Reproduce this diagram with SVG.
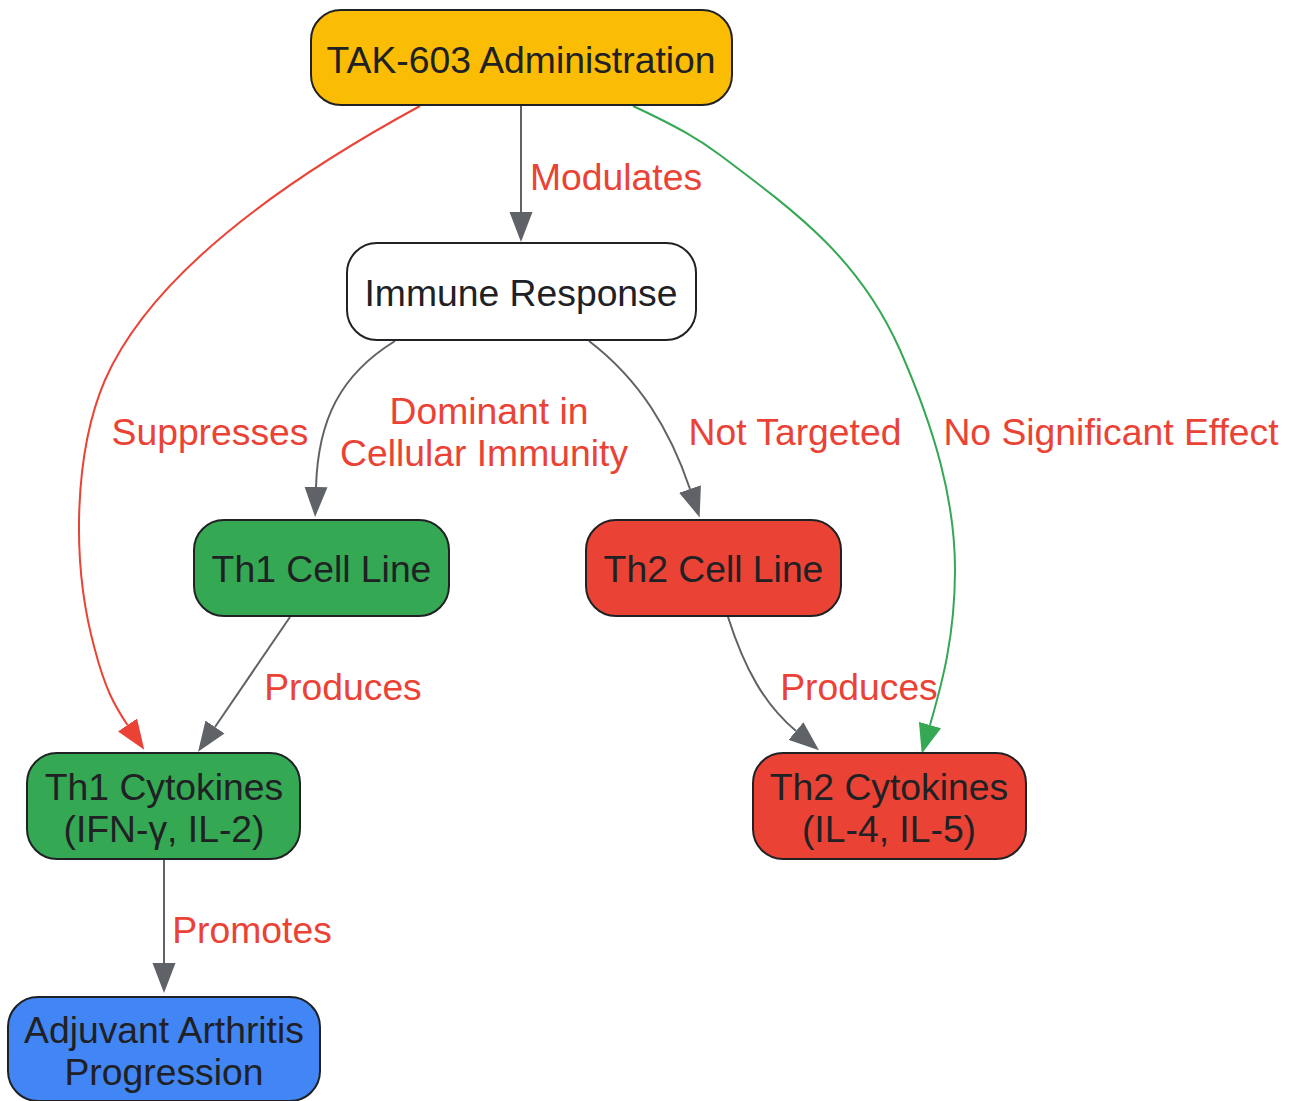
<svg xmlns="http://www.w3.org/2000/svg" width="1289" height="1101" viewBox="0 0 1289 1101">
<style>
.node rect{stroke:#202124;stroke-width:2}
.nt{font-family:"Liberation Sans",Arial,sans-serif;font-size:37.3px;fill:#202124;text-anchor:middle}
.el{font-family:"Liberation Sans",Arial,sans-serif;font-size:37.3px;fill:#EA4335;text-anchor:middle}
.e{fill:none;stroke-width:2}
.g{stroke:#5F6368}
.r{stroke:#EA4335}
.gr{stroke:#34A853}
</style>
<defs>
<marker id="mg" markerUnits="userSpaceOnUse" markerWidth="31" markerHeight="24" refX="0" refY="0" viewBox="0 -12 31 24" orient="auto"><path d="M0,-11.5 L30,0 L0,11.5 z" fill="#5F6368"/></marker>
<marker id="mr" markerUnits="userSpaceOnUse" markerWidth="31" markerHeight="24" refX="0" refY="0" viewBox="0 -12 31 24" orient="auto"><path d="M0,-11.5 L30,0 L0,11.5 z" fill="#EA4335"/></marker>
<marker id="mgr" markerUnits="userSpaceOnUse" markerWidth="31" markerHeight="24" refX="0" refY="0" viewBox="0 -12 31 24" orient="auto"><path d="M0,-11.5 L30,0 L0,11.5 z" fill="#34A853"/></marker>
</defs>
<rect width="1289" height="1101" fill="#ffffff"/>
<g id="edges">
<path class="e g" d="M521,106 L521,212" marker-end="url(#mg)"/>
<path class="e r" d="M420,106 C330,155 160,255 105,380 C75,450 70,560 95,650 C105,688 114,705 127.5,725" marker-end="url(#mr)"/>
<path class="e gr" d="M633,106 C680,128 700,140 720,155 C800,215 860,260 900,350 C935,430 955,500 955,570 C955,640 940,690 930,725" marker-end="url(#mgr)"/>
<path class="e g" d="M395,341 C340,375 318,420 316,487" marker-end="url(#mg)"/>
<path class="e g" d="M589,341 C640,380 670,430 690,489" marker-end="url(#mg)"/>
<path class="e g" d="M290,617 L215,727" marker-end="url(#mg)"/>
<path class="e g" d="M728,617 C745,670 765,705 796,731" marker-end="url(#mg)"/>
<path class="e g" d="M164,860 L164,963" marker-end="url(#mg)"/>
<text class="el" x="616" y="190">Modulates</text>
<text class="el" x="210" y="445">Suppresses</text>
<text class="el" x="489" y="424">Dominant in</text>
<text class="el" x="484" y="466">Cellular Immunity</text>
<text class="el" x="795" y="445">Not Targeted</text>
<text class="el" x="1111" y="445">No Significant Effect</text>
<text class="el" x="343" y="700">Produces</text>
<text class="el" x="859" y="700">Produces</text>
<text class="el" x="252" y="943">Promotes</text>
</g>
<g id="tak" class="node"><rect x="311" y="10" width="421" height="95" rx="30" fill="#FBBC04"/><text class="nt" x="521" y="73">TAK-603 Administration</text></g>
<g id="immune" class="node"><rect x="347" y="243" width="349" height="97" rx="30" fill="#FFFFFF"/><text class="nt" x="521" y="306">Immune Response</text></g>
<g id="th1cell" class="node"><rect x="194" y="520" width="255" height="96" rx="30" fill="#34A853"/><text class="nt" x="321.5" y="582">Th1 Cell Line</text></g>
<g id="th2cell" class="node"><rect x="586" y="520" width="255" height="96" rx="30" fill="#EA4335"/><text class="nt" x="713.5" y="582">Th2 Cell Line</text></g>
<g id="th1cyt" class="node"><rect x="27" y="753" width="273" height="106" rx="30" fill="#34A853"/><text class="nt" x="164" y="800">Th1 Cytokines</text><text class="nt" x="164" y="842">(IFN-γ, IL-2)</text></g>
<g id="th2cyt" class="node"><rect x="753" y="753" width="273" height="106" rx="30" fill="#EA4335"/><text class="nt" x="889" y="800">Th2 Cytokines</text><text class="nt" x="889" y="842">(IL-4, IL-5)</text></g>
<g id="arthritis" class="node"><rect x="8" y="997" width="312" height="104" rx="30" fill="#4285F4"/><text class="nt" x="164" y="1043">Adjuvant Arthritis</text><text class="nt" x="164" y="1085">Progression</text></g>
</svg>
